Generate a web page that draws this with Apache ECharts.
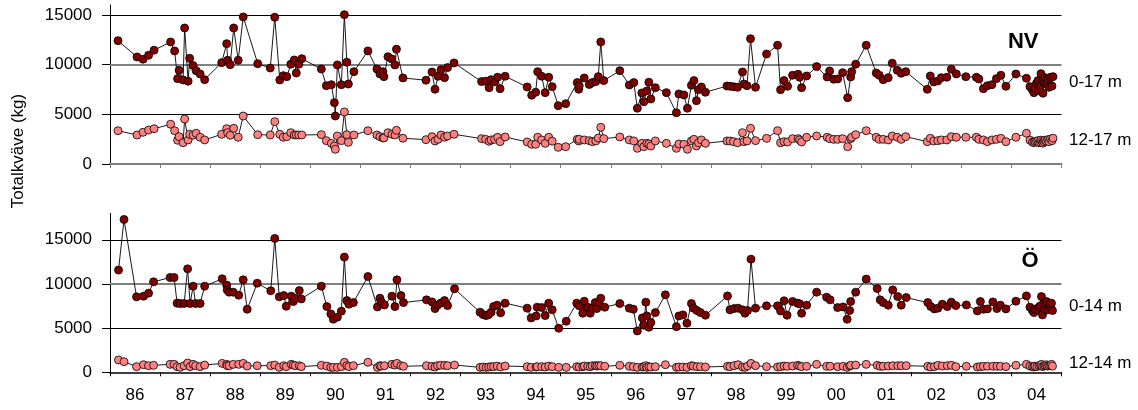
<!DOCTYPE html>
<html><head><meta charset="utf-8">
<script src="https://cdn.jsdelivr.net/npm/echarts@6/dist/echarts.min.js"></script>
<style>html,body{margin:0;padding:0;background:#fff}#c{width:1138px;height:410px}</style>
</head><body><div id="c"></div><script>
const yearLabels = ['86','87','88','89','90','91','92','93','94','95','96','97','98','99','00','01','02','03','04'];
const yTicksTop = [0,5000,10000,15000];
const yTicksBottom = [0,5000,10000,15000];

// NV station: sampling dates (decimal year), 0-17 m and 12-17 m totals (kg)
const nvDates = [1986.16,1986.54,1986.66,1986.77,1986.88,1987.21,1987.29,1987.35,1987.38,1987.46,
 1987.49,1987.56,1987.59,1987.66,1987.72,1987.80,1987.89,1988.23,1988.33,1988.35,
 1988.40,1988.47,1988.56,1988.66,1988.95,1989.20,1989.29,1989.39,1989.46,1989.53,
 1989.61,1989.68,1989.72,1989.77,1989.83,1990.22,1990.32,1990.42,1990.48,1990.50,
 1990.54,1990.62,1990.68,1990.73,1990.76,1990.87,1991.15,1991.33,1991.39,1991.45,
 1991.47,1991.55,1991.63,1991.69,1991.72,1991.85,1992.31,1992.43,1992.49,1992.55,
 1992.61,1992.68,1992.74,1992.87,1993.42,1993.50,1993.57,1993.61,1993.68,1993.74,
 1993.79,1993.89,1994.33,1994.42,1994.50,1994.54,1994.62,1994.69,1994.76,1994.83,
 1994.95,1995.10,1995.33,1995.36,1995.37,1995.47,1995.57,1995.63,1995.70,1995.75,
 1995.80,1995.86,1996.18,1996.37,1996.46,1996.53,1996.62,1996.66,1996.72,1996.76,
 1996.80,1996.89,1997.11,1997.31,1997.36,1997.46,1997.53,1997.61,1997.66,1997.71,
 1997.75,1997.81,1997.89,1998.32,1998.38,1998.45,1998.53,1998.63,1998.66,1998.72,
 1998.79,1998.89,1999.11,1999.33,1999.39,1999.46,1999.53,1999.63,1999.74,1999.77,
 1999.81,1999.91,2000.11,2000.32,2000.37,2000.45,2000.53,2000.63,2000.73,2000.79,
 2000.81,2000.89,2001.10,2001.30,2001.36,2001.44,2001.54,2001.62,2001.72,2001.80,
 2001.89,2002.32,2002.38,2002.45,2002.53,2002.60,2002.71,2002.80,2002.90,2003.09,
 2003.30,2003.35,2003.44,2003.52,2003.61,2003.70,2003.79,2003.89,2004.09,2004.30,
 2004.37,2004.42,2004.45,2004.47,2004.50,2004.53,2004.55,2004.58,2004.59,2004.62,
 2004.63,2004.65,2004.67,2004.70,2004.73,2004.75,2004.78,2004.81,2004.83];
const nv0_17 = [12410,10770,10540,10940,11450,12280,11380,8590,9430,8460,
 13690,8330,10640,9900,9390,9060,8490,10200,12110,10440,
 10000,13690,10440,14800,10100,9660,14770,8460,8890,8790,
 10040,10470,9160,10040,10600,9560,7880,7980,6170,4830,
 9970,7980,15030,10240,8050,9290,11380,9560,9060,9290,
 8790,10800,10570,9970,11550,8660,8430,9260,7520,8830,
 9490,8690,9700,10170,8290,8330,7680,8490,8260,8730,
 7580,8830,7750,6920,7220,9290,8830,7180,8730,7780,
 5870,6070,8190,7520,7880,8660,8000,8190,8290,8790,
 12280,8390,9390,7950,8190,5610,7150,6270,7350,8230,
 6540,7680,7180,5160,7050,6950,5610,7920,8390,6370,
 7480,7750,7220,7850,7820,7780,7720,9260,8050,7880,
 12610,7720,11070,11950,7480,8390,7820,8930,9030,8730,
 7680,8860,9800,8760,9360,8530,8560,9190,6670,8760,
 9290,10040,11950,9160,8930,8490,8690,10140,9430,9130,
 9290,7520,8860,8260,8360,8690,8730,9530,9060,8790,
 8730,8560,7580,7880,7980,8590,8930,7820,9060,8630,
 7780,7450,7180,7620,8120,8390,7380,7850,9090,8460,
 7120,8190,8690,8050,8530,7720,8730,7850,8790];
const nv12_17 = [3350,2920,3190,3420,3550,4000,3350,2390,2750,2140,
 4530,2420,2990,2900,3090,2690,2420,2990,3550,3150,
 2890,3590,2690,4830,2950,2920,4260,2990,2690,2750,
 3150,2920,2920,2920,2920,2950,2350,2080,1810,1480,
 2820,2350,5240,2950,2180,2920,3350,2920,2750,2620,
 2620,3150,2990,2920,3390,2590,2450,2750,2320,2480,
 2920,2690,2820,2990,2550,2480,2290,2420,2480,2690,
 2250,2720,2220,1980,1980,2690,2420,2080,2690,2290,
 1680,1740,2480,2320,2480,2420,2350,2250,2320,2620,
 3690,2550,2720,2420,2320,1580,2080,1740,2080,2010,
 1810,2320,2080,1580,2010,1980,1480,2320,2480,1810,
 2140,2420,2080,2320,2320,2250,2140,3150,2250,2320,
 3590,2350,2580,3350,2140,2250,2220,2550,2550,2420,
 2220,2690,2820,2690,2550,2480,2480,2550,1740,2550,
 2690,2950,3350,2690,2480,2480,2420,2820,2690,2480,
 2750,2250,2580,2320,2350,2420,2420,2750,2690,2690,
 2690,2480,2420,2250,2420,2480,2580,2250,2690,3090,
 2400,2200,2150,2250,2300,2350,2150,2200,2400,2300,
 2100,2250,2400,2300,2450,2250,2500,2350,2600];

// Ö station: sampling dates, 0-14 m and 12-14 m totals (kg)
const oDates = [1986.17,1986.28,1986.53,1986.67,1986.77,1986.87,1987.20,1987.28,1987.34,1987.40,
 1987.48,1987.55,1987.60,1987.66,1987.71,1987.80,1987.89,1988.24,1988.33,1988.34,
 1988.38,1988.46,1988.57,1988.66,1988.74,1988.94,1989.21,1989.29,1989.38,1989.47,
 1989.52,1989.62,1989.66,1989.70,1989.78,1989.82,1990.22,1990.33,1990.41,1990.46,
 1990.54,1990.62,1990.68,1990.73,1990.77,1990.86,1991.15,1991.34,1991.39,1991.42,
 1991.48,1991.63,1991.69,1991.73,1991.81,1991.86,1992.32,1992.43,1992.49,1992.54,
 1992.60,1992.68,1992.74,1992.88,1993.39,1993.45,1993.51,1993.56,1993.61,1993.66,
 1993.73,1993.80,1993.89,1994.33,1994.41,1994.51,1994.53,1994.62,1994.69,1994.76,
 1994.83,1994.96,1995.11,1995.32,1995.37,1995.44,1995.47,1995.54,1995.59,1995.63,
 1995.69,1995.72,1995.76,1995.80,1995.88,1996.18,1996.37,1996.45,1996.53,1996.63,
 1996.66,1996.70,1996.72,1996.76,1996.80,1996.89,1997.09,1997.31,1997.36,1997.44,
 1997.52,1997.61,1997.65,1997.72,1997.79,1997.89,1998.33,1998.38,1998.46,1998.54,
 1998.63,1998.68,1998.73,1998.80,1998.89,1999.11,1999.33,1999.39,1999.46,1999.52,
 1999.63,1999.73,1999.77,1999.81,1999.91,2000.11,2000.31,2000.38,2000.53,2000.64,
 2000.72,2000.77,2000.79,2000.89,2001.10,2001.32,2001.38,2001.44,2001.54,2001.63,
 2001.73,2001.80,2001.90,2002.33,2002.39,2002.46,2002.53,2002.62,2002.72,2002.80,
 2002.89,2003.10,2003.32,2003.38,2003.44,2003.52,2003.63,2003.71,2003.78,2003.89,
 2004.09,2004.30,2004.37,2004.42,2004.45,2004.47,2004.51,2004.55,2004.58,2004.60,
 2004.62,2004.65,2004.67,2004.70,2004.72,2004.75,2004.78,2004.80,2004.82];
const o0_14 = [11570,17300,8540,8620,8960,10240,10730,10730,7830,7790,
 7790,11710,7790,9750,7790,7790,9750,10580,9870,9330,
 9070,9070,8730,10470,7140,10090,9220,15150,8540,8690,
 7480,8620,8010,8350,9250,8310,9750,7440,6610,6010,
 6240,6920,13040,8120,7710,7890,10840,7400,8390,7940,
 7630,8620,7440,10470,8690,7890,8200,7970,7210,7600,
 7830,8120,7550,9450,6800,6530,6420,6530,6800,7440,
 7600,6730,7830,7260,6160,6380,7370,7330,6420,7830,
 7070,4990,5780,7830,7520,6690,8050,7370,6690,7260,
 7890,7210,7890,8390,7370,7780,7260,7140,4680,6160,
 5330,7940,6380,5100,5630,6760,8770,5170,6380,6500,
 5560,7780,7260,6990,6760,6460,8650,7070,7210,7260,
 7070,6690,6990,12810,7260,7520,7520,6950,8090,6460,
 8010,7830,7750,6690,7600,9070,8500,8200,7330,7400,
 6010,6990,8010,9070,10550,9480,8200,7890,7600,9330,
 8570,7600,8460,7890,7440,7180,7260,7710,7440,7940,
 7550,7630,6950,8010,7140,7180,7970,7210,7600,7180,
 8050,8650,7370,6990,6760,7140,7070,7370,7520,8570,
 6500,7180,7750,8010,7070,7670,7520,7830,6990];
const o12_14 = [1400,1200,640,860,750,790,900,900,640,560,
 750,1050,640,900,750,640,820,1010,900,750,
 750,900,900,1010,710,750,750,820,560,750,
 640,900,820,750,750,640,790,710,560,560,
 560,640,1130,750,640,750,1130,560,750,700,
 750,900,820,1010,750,680,750,680,600,750,
 790,790,750,820,560,600,560,600,640,640,
 700,600,710,640,560,600,640,640,600,710,
 640,560,560,640,600,640,710,680,640,750,
 750,710,750,750,680,790,680,640,560,600,
 640,750,560,640,600,640,860,560,600,600,
 560,750,700,640,640,600,680,640,750,860,
 600,560,710,1010,750,640,600,640,710,680,
 710,790,710,640,680,900,680,680,640,680,
 560,710,790,820,900,790,680,680,710,750,
 750,750,750,680,600,640,790,710,750,790,
 640,680,600,640,680,680,680,680,680,640,
 790,900,700,650,600,700,650,750,800,900,
 650,700,800,850,700,750,800,900,700];

const FONT = '"Liberation Sans", Arial, Helvetica, sans-serif';
const DARK = '#800000', LIGHT = '#FF8080';
const pairs = (d, v) => d.map((x, i) => [x, v[i]]);

function xAxisValue(grid, color, width) {
  return {gridIndex: grid, type: 'value', min: 1986, max: 2005, interval: 1,
    axisLine: {show: true, onZero: false, lineStyle: {color: color, width: width}},
    axisTick: {show: true, length: 4, lineStyle: {color: color, width: 1}},
    axisLabel: {show: false}, splitLine: {show: false}};
}
function yAxisValue(grid, max, ticks) {
  return {gridIndex: grid, type: 'value', min: 0, max: max,
    axisLine: {show: true, lineStyle: {color: '#000', width: 1}},
    axisTick: {show: true, length: 8, customValues: ticks, lineStyle: {color: '#000', width: 1}},
    axisLabel: {customValues: ticks, fontSize: 17, margin: 18, color: '#000', fontFamily: FONT,
      formatter: v => String(v)},
    splitLine: {show: false}};
}
function gridLines(xi, yi) {
  return {type: 'line', xAxisIndex: xi, yAxisIndex: yi, data: [], silent: true, z: 1,
    markLine: {silent: true, symbol: ['none', 'none'], label: {show: false}, z: 1, animation: false,
      data: [
        {yAxis: 5000, lineStyle: {color: '#000', width: 1, type: 'solid'}},
        {yAxis: 10000, lineStyle: {color: '#808080', width: 2, type: 'solid'}},
        {yAxis: 15000, lineStyle: {color: '#000', width: 1, type: 'solid'}}
      ]}};
}
function dataSeries(name, xi, yi, d, v, color) {
  return {name: name, type: 'line', xAxisIndex: xi, yAxisIndex: yi, data: pairs(d, v),
    symbol: 'circle', symbolSize: 8, showAllSymbol: true, z: 3,
    lineStyle: {color: '#000', width: 0.9},
    itemStyle: {color: color, borderColor: '#000', borderWidth: 0.8}};
}
const txt = (x, y, s, extra) => ({type: 'text', x: x, y: y, silent: true,
  style: Object.assign({text: s, font: '17px ' + FONT, fill: '#000', textAlign: 'left', textVerticalAlign: 'middle'}, extra || {})});

const chart = echarts.init(document.getElementById('c'), null, {renderer: 'canvas'});
chart.setOption({
  animation: false,
  backgroundColor: '#fff',
  grid: [
    {left: 110, right: 76.5, top: 5, height: 159},
    {left: 110, right: 76.5, top: 213.3, height: 159}
  ],
  xAxis: [
    xAxisValue(0, '#808080', 2),
    xAxisValue(1, '#000', 1.5),
    {gridIndex: 1, type: 'category', data: yearLabels, boundaryGap: true, position: 'bottom',
      axisLine: {show: false}, axisTick: {show: false}, splitLine: {show: false},
      axisLabel: {interval: 0, fontSize: 17, margin: 15, color: '#000', fontFamily: FONT}}
  ],
  yAxis: [yAxisValue(0, 16000, yTicksTop), yAxisValue(1, 18000, yTicksBottom)],
  series: [
    gridLines(0, 0),
    gridLines(1, 1),
    dataSeries('12-17 m', 0, 0, nvDates, nv12_17, LIGHT),
    dataSeries('0-17 m', 0, 0, nvDates, nv0_17, DARK),
    dataSeries('12-14 m', 1, 1, oDates, o12_14, LIGHT),
    dataSeries('0-14 m', 1, 1, oDates, o0_14, DARK)
  ],
  graphic: [
    {type: 'text', x: 18, y: 151, rotation: Math.PI / 2, silent: true,
      style: {text: 'Totalkväve (kg)', font: '17px ' + FONT, fill: '#000', textAlign: 'center', textVerticalAlign: 'middle'}},
    txt(1069, 82.5, '0-17 m'),
    txt(1069, 140.5, '12-17 m'),
    txt(1069, 306.5, '0-14 m'),
    txt(1069, 363.5, '12-14 m'),
    txt(1038.5, 42, 'NV', {font: 'bold 22px ' + FONT, textAlign: 'right'}),
    txt(1038.5, 261, 'Ö', {font: 'bold 22px ' + FONT, textAlign: 'right'})
  ]
});
</script></body></html>
